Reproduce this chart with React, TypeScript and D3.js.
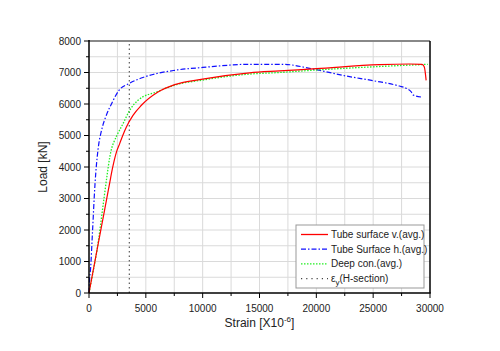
import { useEffect } from "react";
import * as d3 from "d3";

// strain [x10^-6], load [kN]
const redStrain = [0, 700, 1400, 1900, 2050, 2200, 2420, 2700, 2970, 3290, 3870, 4610, 6070, 7540, 10000, 14130, 16760, 20000, 25540, 28200, 29300, 29500, 29660];
const redLoad = [0, 1350, 2690, 3650, 3930, 4180, 4480, 4743, 5000, 5270, 5640, 5960, 6380, 6615, 6790, 6990, 7050, 7120, 7250, 7270, 7260, 7175, 6750];

const blueStrain = [0, 40, 150, 300, 530, 650, 760, 880, 1030, 1200, 1470, 2060, 2640, 3520, 4900, 7540, 10000, 14130, 17060, 19700, 22600, 25000, 27300, 27900, 28360, 28500, 29240];
const blueLoad = [0, 350, 825, 1885, 3470, 4050, 4450, 4780, 5050, 5300, 5590, 6065, 6435, 6650, 6860, 7070, 7160, 7260, 7260, 7110, 6890, 6740, 6570, 6500, 6380, 6290, 6220];

const greenStrain = [0, 350, 700, 1300, 1600, 1820, 2000, 2200, 2450, 3000, 3580, 4310, 6070, 7540, 10000, 14130, 16760, 20000, 25540, 29800];
const greenLoad = [0, 660, 1350, 2950, 3760, 4300, 4600, 4800, 5000, 5380, 5800, 6117, 6400, 6600, 6760, 6950, 7000, 7080, 7190, 7260];

const yieldStrain = 3550;

const xTicks = [0, 5000, 10000, 15000, 20000, 25000, 30000];
const yTicks = [0, 1000, 2000, 3000, 4000, 5000, 6000, 7000, 8000];

const legendLabels = ["Tube surface v.(avg.)", "Tube Surface h.(avg.)", "Deep con.(avg.)", "(H-section)"];

const W = 500;
const H = 351;
const m = { left: 89, top: 41, right: 70, bottom: 58 };
const font = "'Liberation Sans', Arial, sans-serif";

export default function App() {
  useEffect(() => {
    document.body.style.margin = "0";
    const svg = d3.select("#chart");
    svg.selectAll("*").remove();

    const x = d3.scaleLinear().domain([0, 30000]).range([m.left, W - m.right]);
    const y = d3.scaleLinear().domain([0, 8000]).range([H - m.bottom, m.top]);
    const x0 = x(0), x1 = x(30000), y0 = y(0), y1 = y(8000);

    svg.append("rect").attr("width", W).attr("height", H).attr("fill", "#fff");

    // grid (major + minor)
    const g = svg.append("g");
    const xMinor = d3.range(2500, 30000, 2500);
    const yMinor = d3.range(500, 8000, 500);
    g.selectAll(".gx").data(xMinor).enter().append("line")
      .attr("x1", (d) => x(d)).attr("x2", (d) => x(d)).attr("y1", y0).attr("y2", y1)
      .attr("stroke", "#dadada").attr("stroke-width", 1);
    g.selectAll(".gy").data(yMinor).enter().append("line")
      .attr("y1", (d) => y(d)).attr("y2", (d) => y(d)).attr("x1", x0).attr("x2", x1)
      .attr("stroke", "#dadada").attr("stroke-width", 1);

    // yield line
    svg.append("line")
      .attr("x1", x(yieldStrain)).attr("x2", x(yieldStrain)).attr("y1", y0).attr("y2", y1)
      .attr("stroke", "#666").attr("stroke-width", 1.3).attr("stroke-dasharray", "1.5,3");

    const line = (xs: number[], ys: number[]) =>
      d3.line<number>().x((d) => x(xs[d])).y((d) => y(ys[d])).curve(d3.curveMonotoneX)(d3.range(xs.length));

    svg.append("path").attr("d", line(blueStrain, blueLoad)!).attr("fill", "none")
      .attr("stroke", "#1010ff").attr("stroke-width", 1.2).attr("stroke-dasharray", "5,2,1.5,2");
    svg.append("path").attr("d", line(greenStrain, greenLoad)!).attr("fill", "none")
      .attr("stroke", "#22ee22").attr("stroke-width", 1.3).attr("stroke-dasharray", "1.5,1.5");
    svg.append("path").attr("d", line(redStrain, redLoad)!).attr("fill", "none")
      .attr("stroke", "#ff0000").attr("stroke-width", 1.2);

    // frame
    svg.append("line").attr("x1", x0).attr("x2", x1).attr("y1", y1).attr("y2", y1)
      .attr("stroke", "#888").attr("stroke-width", 2);
    svg.append("line").attr("x1", x1).attr("x2", x1).attr("y1", y1).attr("y2", y0)
      .attr("stroke", "#000").attr("stroke-width", 1.5);
    svg.append("line").attr("x1", x0).attr("x2", x0).attr("y1", y1 - 1).attr("y2", y0)
      .attr("stroke", "#000").attr("stroke-width", 1.5);
    svg.append("line").attr("x1", x0).attr("x2", x1 + 0.75).attr("y1", y0).attr("y2", y0)
      .attr("stroke", "#000").attr("stroke-width", 1.5);

    // ticks
    const xAll = d3.range(0, 30001, 2500);
    svg.selectAll(".tx").data(xAll).enter().append("line")
      .attr("x1", (d) => x(d)).attr("x2", (d) => x(d)).attr("y1", y0)
      .attr("y2", (d) => y0 + (d % 5000 === 0 ? 5 : 3)).attr("stroke", "#000").attr("stroke-width", 1);
    const yAll = d3.range(0, 8001, 500);
    svg.selectAll(".ty").data(yAll).enter().append("line")
      .attr("y1", (d) => y(d)).attr("y2", (d) => y(d)).attr("x1", x0)
      .attr("x2", (d) => x0 - (d % 1000 === 0 ? 5 : 3)).attr("stroke", "#000").attr("stroke-width", 1);

    svg.selectAll(".lx").data(xTicks).enter().append("text")
      .attr("x", (d) => x(d)).attr("y", y0 + 19).attr("text-anchor", "middle")
      .attr("font-family", font).attr("font-size", 10).attr("fill", "#222").text((d) => d);
    svg.selectAll(".ly").data(yTicks).enter().append("text")
      .attr("x", x0 - 8).attr("y", (d) => y(d) + 3.5).attr("text-anchor", "end")
      .attr("font-family", font).attr("font-size", 10).attr("fill", "#222").text((d) => d);

    // axis titles
    svg.append("text").attr("transform", `translate(47,${(y0 + y1) / 2}) rotate(-90)`)
      .attr("text-anchor", "middle").attr("font-family", font).attr("font-size", 12).attr("fill", "#222")
      .text("Load [kN]");
    const xt = svg.append("text").attr("x", (x0 + x1) / 2).attr("y", 327).attr("text-anchor", "middle")
      .attr("font-family", font).attr("font-size", 12).attr("fill", "#222");
    xt.append("tspan").text("Strain [X10");
    xt.append("tspan").attr("dy", -5).attr("font-size", 8).text("-6");
    xt.append("tspan").attr("dy", 5).text("]");

    // legend
    const lg = svg.append("g").attr("transform", "translate(296,225)");
    lg.append("rect").attr("width", 128).attr("height", 63).attr("fill", "#fff")
      .attr("stroke", "#999").attr("stroke-width", 1);
    const styles = [
      { c: "#ff0000", d: null, w: 1.3 },
      { c: "#1010ff", d: "5,2,1.5,2", w: 1.2 },
      { c: "#22ee22", d: "1.5,1.5", w: 1.3 },
      { c: "#444", d: "1.2,4", w: 1.3 },
    ];
    legendLabels.forEach((lab, i) => {
      const yy = 9.5 + i * 14.7;
      const s = styles[i];
      const l = lg.append("line").attr("x1", 5).attr("x2", 32).attr("y1", yy).attr("y2", yy)
        .attr("stroke", s.c).attr("stroke-width", s.w);
      if (s.d) l.attr("stroke-dasharray", s.d);
      const t = lg.append("text").attr("x", 35).attr("y", yy + 3.5)
        .attr("font-family", font).attr("font-size", 10).attr("fill", "#222");
      if (i === 3) {
        t.append("tspan").text("\u03B5");
        t.append("tspan").attr("dy", 3).attr("font-size", 8).text("y");
        t.append("tspan").attr("dy", -3).text(lab);
      } else {
        t.text(lab);
      }
    });
  }, []);

  return <svg id="chart" width={W} height={H} style={{ display: "block" }} />;
}
